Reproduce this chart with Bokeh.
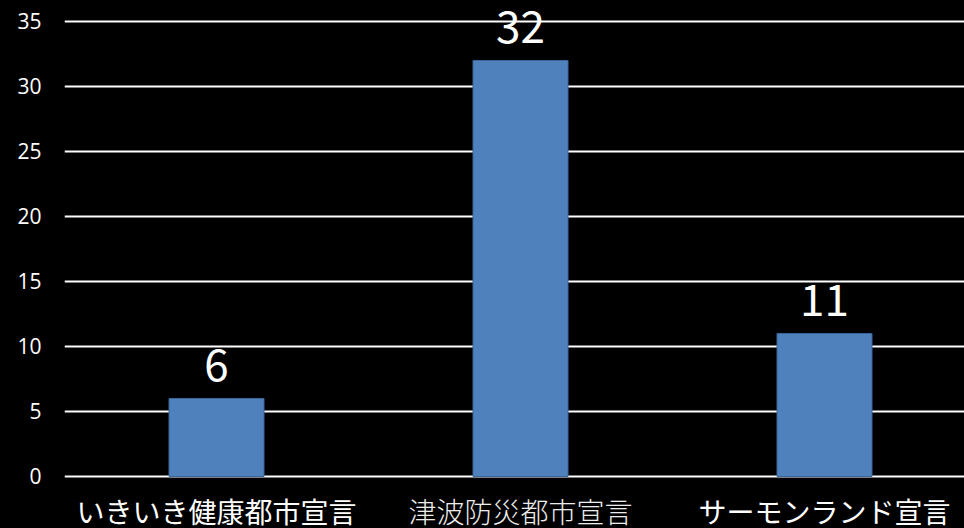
from bokeh.plotting import figure
from bokeh.models import ColumnDataSource, FixedTicker, Range1d
from bokeh.core.properties import value
from bokeh.embed import file_html
from bokeh.resources import INLINE

categories = ["いきいき健康都市宣言", "津波防災都市宣言", "サーモンランド宣言"]
values = [6, 32, 11]
y_ticks = [0, 5, 10, 15, 20, 25, 30, 35]

xs = list(range(len(categories)))
src = ColumnDataSource(dict(x=xs, top=values, label=[str(v) for v in values],
                            zero=[0] * len(xs), cat=categories))
cat_font = ["Noto Sans CJK JP", "Noto Sans CJK JP Light", "Noto Sans CJK JP"]
cat_color = ["white", "#ececec", "white"]
src.data["cfont"] = cat_font
src.data["ccolor"] = cat_color

# y range extends below zero so that the category labels sit inside the frame
p = figure(width=964, height=528, output_backend="svg", toolbar_location=None,
           x_range=Range1d(-0.5, 2.4605), y_range=Range1d(-4, 36.615),
           min_border_left=64, min_border_right=0, min_border_top=0, min_border_bottom=0,
           background_fill_color="black", border_fill_color="black",
           styles={"background-color": "black"})
p.outline_line_color = None

p.vbar(x="x", top="top", width=0.3125, bottom=0, source=src,
       fill_color="#4F81BD", line_color="#3A6699", line_width=1)

p.text(x="x", y="top", text="label", source=src, text_align="center",
       text_baseline="alphabetic", y_offset=-33, text_color="white",
       text_font=value("Noto Sans CJK JP"), text_font_size="44px")

p.text(x="x", y="zero", text="cat", source=src, text_align="center",
       text_baseline="top", y_offset=15, text_color="ccolor",
       text_font="cfont", text_font_size="28px")

p.xgrid.grid_line_color = None
p.ygrid.grid_line_color = "white"
p.ygrid.grid_line_width = 2
p.yaxis.ticker = FixedTicker(ticks=y_ticks)
p.xaxis.visible = False

p.yaxis.axis_line_color = None
p.yaxis.major_tick_line_color = None
p.yaxis.minor_tick_line_color = None
p.yaxis.major_tick_out = 0
p.yaxis.major_label_text_color = "white"
p.yaxis.major_label_text_font = "Open Sans"
p.yaxis.major_label_text_font_size = "21px"
p.yaxis.major_label_standoff = 23

html = file_html(p, INLINE)
html = html.replace("</head>", "<style>html, body { background: #000 !important; }</style></head>", 1)
open("out.html", "w").write(html)
